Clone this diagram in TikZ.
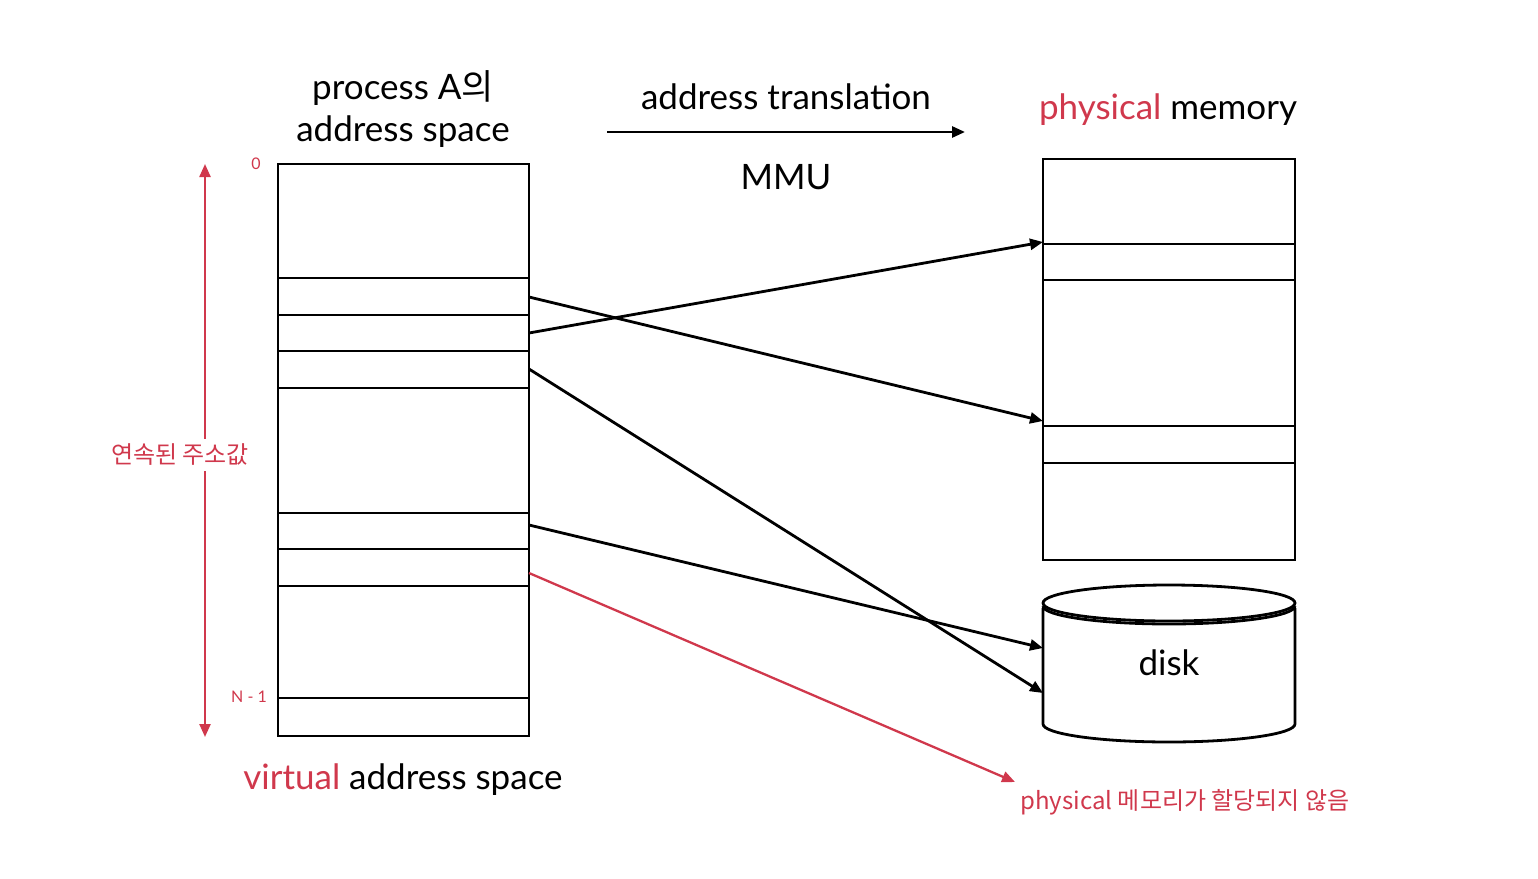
\documentclass[tikz,border=0pt]{standalone}
\usepackage{fontspec}
\setmainfont{Lato}
\newfontfamily\kr{Noto Sans CJK KR}
\usetikzlibrary{arrows.meta}
\definecolor{accent}{RGB}{208,56,76}

\begin{document}
\begin{tikzpicture}[x=1pt,y=-1pt,line width=2.8pt,
  label/.style={font=\fontsize{35}{42}\selectfont, align=center},
  note/.style={text=accent, font=\fontsize{24}{28}\selectfont\kr},
  tick/.style={text=accent, font=\fontsize{16}{18}\selectfont},
  link/.style={-{Triangle[length=13pt,width=11pt]}},
  redlink/.style={accent, line width=2.3pt, -{Triangle[length=13pt,width=11pt]}}]
\useasboundingbox (0,0) rectangle (1538,878);

% virtual address space
\draw (278,164) rectangle (529,736);
\foreach \y in {278,315,351,388,513,549,586,698}
  \draw (278,\y) -- (529,\y);
\coordinate (v1) at (529,297);
\coordinate (v2) at (529,333);
\coordinate (v3) at (529,369);
\coordinate (v4) at (529,525);
\coordinate (v5) at (529,573);

% physical memory
\draw (1043,159) rectangle (1295,560);
\foreach \y in {244,280,426,463}
  \draw (1043,\y) -- (1295,\y);
\coordinate (p1) at (1043,242);
\coordinate (p2) at (1043,421);

% disk
\draw (1043,608) -- (1043,724) arc[start angle=180,end angle=0,x radius=126,y radius=18] -- (1295,608);
\draw (1043,606) arc[start angle=180,end angle=0,x radius=126,y radius=18];
\draw (1169,603) ellipse [x radius=126,y radius=18];
\coordinate (d1) at (1043,648);
\coordinate (d2) at (1043,693);
\node[label] (disk) at (1169,663) {disk};

% labels
\node[label] (proc) at (403,109) {process A{\kr 의}\\address space};
\node[label] (trans) at (786,97) {address translation};
\node[label] (mmu) at (786,177) {MMU};
\node[label] (phys) at (1168,110) {\textcolor{accent}{physical} memory};
\node[label] (virt) at (403,780) {\textcolor{accent}{virtual} address space};
\node[tick] (zero) at (256,164) {0};
\node[tick] (last) at (249,697) {N - 1};
\node[note] (none) at (1185,802) {physical 메모리가 할당되지 않음};

% address translation arrow
\coordinate (ta) at (607,132);
\coordinate (tb) at (965,132);
\draw[link] (ta) -- (tb);

% contiguous range
\coordinate (top) at (205,164);
\coordinate (bot) at (205,737);
\draw[accent,line width=2.3pt,{Triangle[length=13pt,width=11pt]}-{Triangle[length=13pt,width=11pt]}] (top) -- (bot);
\node[note,fill=white,inner sep=5pt] (range) at (180,455) {연속된 주소값};

% mappings
\draw[link] (v1) -- (p2);
\draw[link] (v2) -- (p1);
\draw[link] (v3) -- (d2);
\draw[link] (v4) -- (d1);
\coordinate (nomem) at (1015,782);
\draw[redlink] (v5) -- (nomem);
\end{tikzpicture}
\end{document}
